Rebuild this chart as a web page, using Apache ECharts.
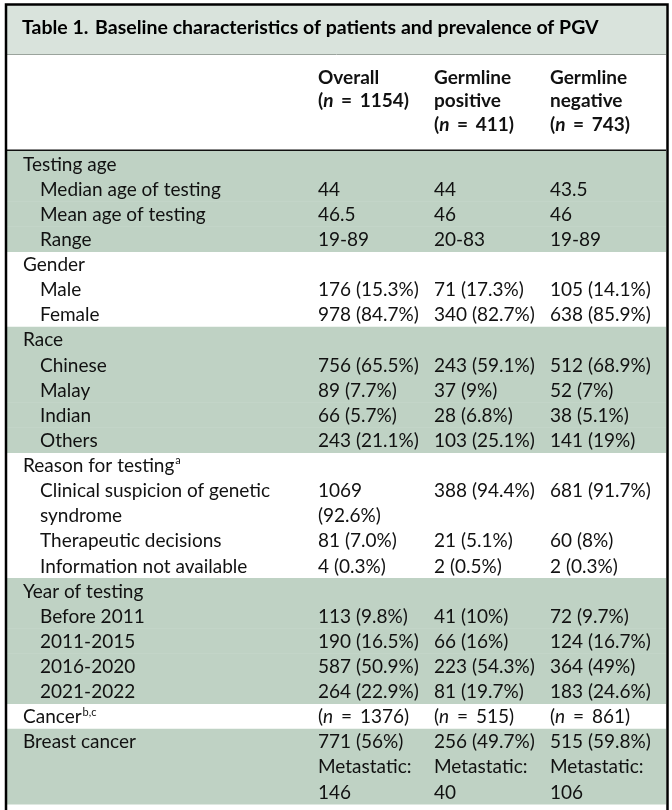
<!DOCTYPE html>
<html>
<head>
<meta charset="utf-8">
<script src="https://cdn.jsdelivr.net/npm/echarts@6/dist/echarts.min.js"></script>
<style>
html,body{margin:0;padding:0;background:#fff;}
#chart{width:672px;height:810px;}
</style>
</head>
<body>
<div id="chart"></div>
<script>
// ---- Data ----
const titleLabel = 'Table 1.';
const titleText = 'Baseline characteristics of patients and prevalence of PGV';
const columnHeaders = [
  ['Overall', '(n = 1154)'],
  ['Germline', 'positive', '(n = 411)'],
  ['Germline', 'negative', '(n = 743)']
];
const categories = [
  'Testing age', 'Median age of testing', 'Mean age of testing', 'Range',
  'Gender', 'Male', 'Female',
  'Race', 'Chinese', 'Malay', 'Indian', 'Others',
  'Reason for testing', 'Clinical suspicion of genetic', 'syndrome', 'Therapeutic decisions', 'Information not available',
  'Year of testing', 'Before 2011', '2011-2015', '2016-2020', '2021-2022',
  'Cancer',
  'Breast cancer', '', ''
];
const rowLevel = [0,1,1,1, 0,1,1, 0,1,1,1,1, 0,1,1,1,1, 0,1,1,1,1, 0, 0,0,0];
const rowGroup = [0,0,0,0, 1,1,1, 2,2,2,2,2, 3,3,3,3,3, 4,4,4,4,4, 5, 6,6,6];
const rowNote = ['', '', '', '', '', '', '', '', '', '', '', '', 'a', '', '', '', '', '', '', '', '', '', 'b,c', '', '', ''];
const overall = [
  '', '44', '46.5', '19-89',
  '', '176 (15.3%)', '978 (84.7%)',
  '', '756 (65.5%)', '89 (7.7%)', '66 (5.7%)', '243 (21.1%)',
  '', '1069', '(92.6%)', '81 (7.0%)', '4 (0.3%)',
  '', '113 (9.8%)', '190 (16.5%)', '587 (50.9%)', '264 (22.9%)',
  '(n = 1376)',
  '771 (56%)', 'Metastatic:', '146'
];
const germlinePositive = [
  '', '44', '46', '20-83',
  '', '71 (17.3%)', '340 (82.7%)',
  '', '243 (59.1%)', '37 (9%)', '28 (6.8%)', '103 (25.1%)',
  '', '388 (94.4%)', '', '21 (5.1%)', '2 (0.5%)',
  '', '41 (10%)', '66 (16%)', '223 (54.3%)', '81 (19.7%)',
  '(n = 515)',
  '256 (49.7%)', 'Metastatic:', '40'
];
const germlineNegative = [
  '', '43.5', '46', '19-89',
  '', '105 (14.1%)', '638 (85.9%)',
  '', '512 (68.9%)', '52 (7%)', '38 (5.1%)', '141 (19%)',
  '', '681 (91.7%)', '', '60 (8%)', '2 (0.3%)',
  '', '72 (9.7%)', '124 (16.7%)', '364 (49%)', '183 (24.6%)',
  '(n = 861)',
  '515 (59.8%)', 'Metastatic:', '106'
];

// ---- Layout / style ----
const FONT = 'Lato';
const FS = 19;
const TEXT = '#111';
const GREEN = '#bfd2c4';
const TITLE_BG = '#d9e3dc';
const TEAL = '#17705a';
const NOTE = '#3a9ad9';
const GRID = {left: 7, right: 6, top: 151, bottom: 6};
const labelX = [16, 33];        // relative to grid left, per level
const colX = [311, 427, 543];  // relative to grid left
const headerY = [80, 103.5, 127];

function makeRich(weight) {
  return {
    i: {fontStyle: 'italic', fontWeight: weight, fontFamily: FONT, fontSize: FS, color: TEXT},
    e: {fontWeight: weight, fontFamily: FONT, fontSize: FS, color: TEXT, padding: [0, 3, 0, 3]},
    s: {fontSize: 11, fontFamily: FONT, color: NOTE, verticalAlign: 'top', padding: [0, 0, 10, 1]}
  };
}
function fmt(v) {
  return v.replace(/\(n = /g, '({i|n} {e|=} ');
}

const chart = echarts.init(document.getElementById('chart'), null, {renderer: 'canvas'});

function renderItem(params, api) {
  const idx = api.value(1);
  const cs = params.coordSys;
  const center = api.coord([0, idx]);
  const h = api.size([0, 1])[1];
  const top = center[1] - h / 2;
  const cy = center[1];
  const children = [];
  if (rowGroup[idx] % 2 === 0) {
    children.push({type: 'rect', shape: {x: cs.x, y: top, width: cs.width, height: h + 0.5}, style: {fill: GREEN}, silent: true});
  }
  let label = categories[idx];
  if (rowNote[idx]) label = label + '{s|' + rowNote[idx] + '}';
  const cells = [label, fmt(overall[idx]), fmt(germlinePositive[idx]), fmt(germlineNegative[idx])];
  const xs = [labelX[rowLevel[idx]], colX[0], colX[1], colX[2]];
  cells.forEach((t, k) => {
    if (!t) return;
    children.push({
      type: 'text',
      style: {
        text: t, x: cs.x + xs[k], y: cy + 1, verticalAlign: 'middle', align: 'left',
        fontFamily: FONT, fontSize: FS, fill: TEXT, rich: makeRich('normal')
      },
      silent: true
    });
  });
  return {type: 'group', children: children};
}

const headerGraphics = [];
columnHeaders.forEach((lines, k) => {
  lines.forEach((ln, j) => {
    headerGraphics.push({
      type: 'text',
      left: GRID.left + colX[k],
      top: headerY[j] - 12,
      style: {
        text: fmt(ln), fontFamily: FONT, fontSize: FS, fontWeight: 'bold', fill: TEXT,
        rich: makeRich('bold')
      },
      silent: true
    });
  });
});

const option = {
  backgroundColor: '#fff',
  animation: false,
  grid: GRID,
  xAxis: {type: 'value', min: 0, max: 1, show: false},
  yAxis: {type: 'category', data: categories.map((c, i) => i), inverse: true, show: false},
  graphic: [
    {type: 'rect', shape: {x: 7, y: 5, width: 659, height: 49}, style: {fill: TITLE_BG}, z: 0, silent: true},
    {type: 'line', shape: {x1: 7, y1: 54.5, x2: 666, y2: 54.5}, style: {stroke: '#9aa39c', lineWidth: 1}, silent: true},
    {type: 'text', left: 22, top: 18,
      style: {
        text: '{t|' + titleLabel + '}  {b|' + titleText + '}',
        rich: {
          t: {fontFamily: FONT, fontSize: 19.5, fontWeight: 'bold', color: TEAL},
          b: {fontFamily: FONT, fontSize: 19.5, fontWeight: 'bold', color: '#111'}
        }
      }, silent: true},
    {type: 'line', shape: {x1: 7, y1: 150.5, x2: 666, y2: 150.5}, style: {stroke: '#111', lineWidth: 2}, silent: true},
    {type: 'polyline', shape: {points: [[6, 810], [6, 4.5], [667.5, 4.5], [667.5, 810]]}, style: {stroke: '#000', lineWidth: 2.5, fill: null}, z: 10, silent: true}
  ].concat(headerGraphics),
  series: [{
    type: 'custom',
    renderItem: renderItem,
    encode: {x: 0, y: 1},
    data: categories.map((c, i) => [0, i]),
    clip: false
  }]
};
chart.setOption(option);
</script>
</body>
</html>
